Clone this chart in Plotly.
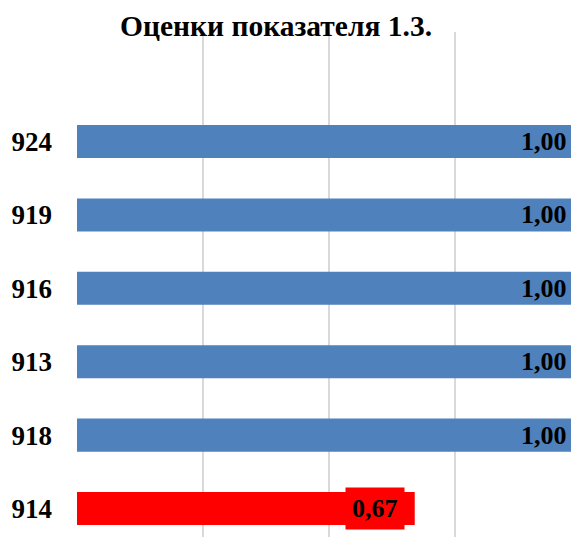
import plotly.graph_objects as go

categories = ["914", "918", "913", "916", "919", "924"]
values = [0.67, 1.00, 1.00, 1.00, 1.00, 1.00]
labels = ["0,67", "1,00", "1,00", "1,00", "1,00", "1,00"]
colors = ["#FF0000", "#4F81BD", "#4F81BD", "#4F81BD", "#4F81BD", "#4F81BD"]
title = "Оценки показателя 1.3."

FONT = "Liberation Serif"
W, H = 571, 537
ML, MT = 77, 32

fig = go.Figure()
fig.add_trace(go.Bar(
    x=values, y=categories, orientation="h",
    marker=dict(color=colors, line=dict(width=0)),
    width=0.45, hoverinfo="skip", showlegend=False,
))

annotations = []
for i, (v, lab, c) in enumerate(zip(values, labels, colors)):
    if v < 0.9:
        annotations.append(dict(
            x=v, y=i, xref="x", yref="y", text="<b>%s</b>" % lab,
            xanchor="right", yanchor="middle", xshift=-10, showarrow=False,
            font=dict(family=FONT, size=26, color="black"),
            bgcolor=c, borderpad=6,
        ))
    else:
        annotations.append(dict(
            x=0.977, y=i, xref="x", yref="y", text="<b>%s</b>" % lab,
            xanchor="right", yanchor="middle", showarrow=False,
            font=dict(family=FONT, size=26, color="black"),
        ))

annotations.append(dict(
    x=(276 - ML) / (W - ML), y=(H - 26) / (H - MT), xref="paper", yref="paper",
    text="<b>%s</b>" % title,
    showarrow=False, font=dict(family=FONT, size=29.5, color="black"),
    xanchor="center", yanchor="middle",
))

fig.update_layout(
    width=W, height=H,
    margin=dict(l=ML, r=0, t=MT, b=0),
    paper_bgcolor="white", plot_bgcolor="white",
    annotations=annotations,
    xaxis=dict(range=[0, 0.98], tickvals=[0, 0.25, 0.5, 0.75, 1.0],
               showticklabels=False, showgrid=True, gridcolor="#D9D9D9",
               gridwidth=1.5, zeroline=False, showline=False, fixedrange=True),
    yaxis=dict(type="category", range=[-0.388, 6.492], showgrid=False,
               zeroline=False, showline=False, ticks="", ticklabelstandoff=24,
               tickfont=dict(family=FONT, size=27, color="black", weight="bold"),
               fixedrange=True),
)

fig.write_html(
    "out.html",
    config={"displayModeBar": False},
    post_script="document.body.style.margin='0';document.body.style.overflow='hidden';",
)
